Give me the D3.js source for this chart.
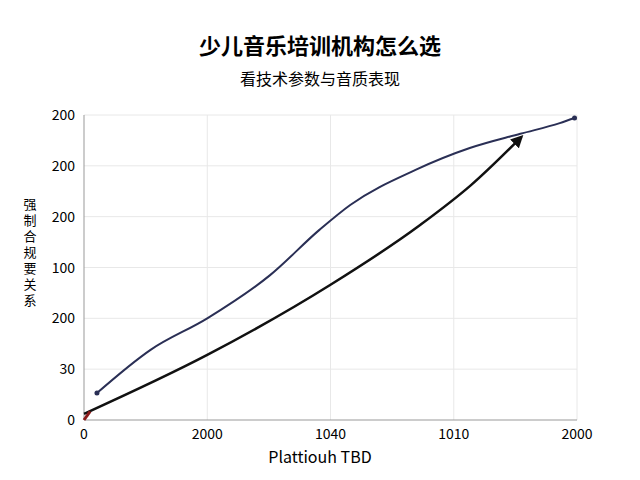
<!DOCTYPE html><html><head><meta charset="utf-8"><script src="https://cdn.jsdelivr.net/npm/d3@7"></script>
<style>body{margin:0;background:#fff}</style></head><body><svg id="c" width="640" height="480"></svg><script>
const xTickLabels=["0","2000","1040","1010","2000"];
const yTickLabels=["0","30","200","100","200","200","200"];
const blueX=[0.105,0.54,1.0,1.51,1.91,2.16,2.69,3.13,3.54,3.86,3.98];
const blueY=[0.53,1.38,2.0,2.85,3.74,4.23,4.92,5.35,5.63,5.84,5.94];
const blackX=[0,1,2,2.73,3.14,3.55];
const blackY=[0.12,1.28,2.66,3.84,4.62,5.57];
const svg=d3.select("#c");
const f="'Noto Sans CJK SC','Noto Sans',sans-serif";
const x=d3.scaleLinear().domain([0,4]).range([84,577]);
const y=d3.scaleLinear().domain([0,6]).range([420,115]);
svg.append("text").attr("x",320).attr("y",54).attr("text-anchor","middle").attr("font-family",f).attr("font-weight","bold").attr("font-size",22).text("少儿音乐培训机构怎么选");
svg.append("text").attr("x",320).attr("y",85).attr("text-anchor","middle").attr("font-family",f).attr("font-size",16).text("看技术参数与音质表现");
const g=svg.append("g");
g.selectAll(".hg").data(d3.range(1,7)).join("line").attr("x1",84).attr("x2",577).attr("y1",d=>y(d)).attr("y2",d=>y(d)).attr("stroke","#e8e8e8");
g.selectAll(".vg").data(d3.range(1,5)).join("line").attr("y1",115).attr("y2",420).attr("x1",d=>x(d)).attr("x2",d=>x(d)).attr("stroke","#e8e8e8");
g.append("line").attr("x1",84).attr("x2",84).attr("y1",115).attr("y2",420).attr("stroke","#999");
g.append("line").attr("x1",84).attr("x2",577).attr("y1",420).attr("y2",420).attr("stroke","#999");
yTickLabels.forEach((t,i)=>g.append("text").attr("x",75).attr("y",y(i)+5).attr("text-anchor","end").attr("font-family",f).attr("font-size",14).text(t));
xTickLabels.forEach((t,i)=>g.append("text").attr("x",x(i)).attr("y",439).attr("text-anchor","middle").attr("font-family",f).attr("font-size",14).text(t));
svg.append("text").attr("x",320).attr("y",463).attr("text-anchor","middle").attr("font-family",f).attr("font-size",16).text("Plattiouh TBD");
"强制合规要关系".split("").forEach((c,i)=>svg.append("text").attr("x",30).attr("y",209+i*16).attr("text-anchor","middle").attr("font-family",f).attr("font-size",13).text(c));
svg.append("defs").append("marker").attr("id","ah").attr("viewBox","0 0 10 10").attr("refX",8).attr("refY",5).attr("markerWidth",5).attr("markerHeight",5).attr("orient","auto").append("path").attr("d","M0,0L10,5L0,10z").attr("fill","#111");
const line=d3.line().x(d=>x(d[0])).y(d=>y(d[1])).curve(d3.curveMonotoneX);
g.append("path").attr("d",line(blueX.map((v,i)=>[v,blueY[i]]))).attr("fill","none").attr("stroke","#2a2f55").attr("stroke-width",2);
g.selectAll(".bd").data([0,blueX.length-1]).join("circle").attr("cx",i=>x(blueX[i])).attr("cy",i=>y(blueY[i])).attr("r",2.5).attr("fill","#2a2f55");
g.append("path").attr("d",line(blackX.map((v,i)=>[v,blackY[i]]))).attr("fill","none").attr("stroke","#111").attr("stroke-width",2.5).attr("marker-end","url(#ah)");
g.append("line").attr("x1",x(0)).attr("y1",y(0)).attr("x2",x(0.05)).attr("y2",y(0.17)).attr("stroke","#8b1a1a").attr("stroke-width",3);
</script></body></html>
